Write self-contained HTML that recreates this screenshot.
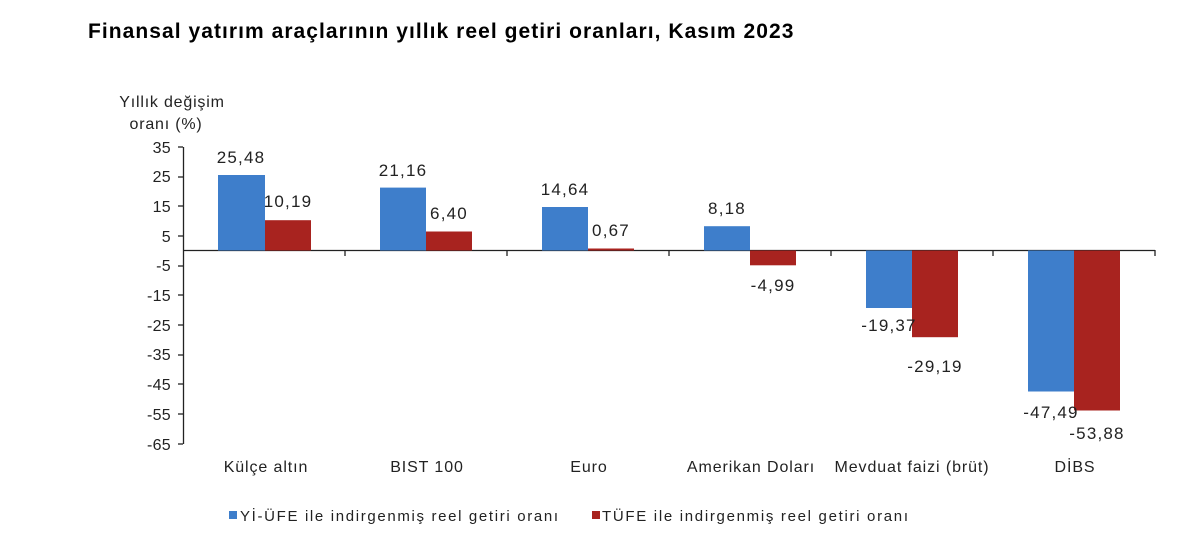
<!DOCTYPE html>
<html><head><meta charset="utf-8"><style>
html,body{margin:0;padding:0;background:#fff;width:1200px;height:557px;overflow:hidden}
svg{display:block;font-family:"Liberation Sans",Arial,sans-serif}
</style></head><body>
<svg width="1200" height="557" viewBox="0 0 1200 557">
<text x="88" y="38" font-size="21" font-weight="bold" letter-spacing="0.6" fill="#000" textLength="706" lengthAdjust="spacing">Finansal yatırım araçlarının yıllık reel getiri oranları, Kasım 2023</text>
<text x="172" y="107" font-size="16" letter-spacing="0.8" fill="#222" text-anchor="middle">Yıllık değişim</text>
<text x="166" y="129" font-size="16" letter-spacing="0.8" fill="#222" text-anchor="middle">oranı (%)</text>
<g font-size="16" letter-spacing="0.3" fill="#222" text-anchor="end">
<text x="171" y="153">35</text><text x="171" y="182">25</text><text x="171" y="212">15</text><text x="171" y="242">5</text>
<text x="171" y="271">-5</text><text x="171" y="301">-15</text><text x="171" y="331">-25</text><text x="171" y="360">-35</text>
<text x="171" y="390">-45</text><text x="171" y="420">-55</text><text x="171" y="450">-65</text>
</g>
<g stroke="#222" stroke-width="1.3">
<line x1="183.5" y1="147" x2="183.5" y2="444"/>
<line x1="178" y1="147" x2="183" y2="147"/><line x1="178" y1="177" x2="183" y2="177"/><line x1="178" y1="206" x2="183" y2="206"/><line x1="178" y1="236" x2="183" y2="236"/><line x1="178" y1="266" x2="183" y2="266"/><line x1="178" y1="295" x2="183" y2="295"/><line x1="178" y1="325" x2="183" y2="325"/><line x1="178" y1="355" x2="183" y2="355"/><line x1="178" y1="384" x2="183" y2="384"/><line x1="178" y1="414" x2="183" y2="414"/><line x1="178" y1="444" x2="183" y2="444"/>
<line x1="183" y1="250.5" x2="1155" y2="250.5"/>
<line x1="345" y1="250" x2="345" y2="256"/><line x1="507" y1="250" x2="507" y2="256"/><line x1="669" y1="250" x2="669" y2="256"/><line x1="831" y1="250" x2="831" y2="256"/><line x1="993" y1="250" x2="993" y2="256"/><line x1="1155" y1="250" x2="1155" y2="256"/>
</g>
<g fill="#3e7ecb">
<rect x="218" y="175" width="47" height="75.5"/>
<rect x="380" y="187.6" width="46" height="62.9"/>
<rect x="542" y="207" width="46" height="43.5"/>
<rect x="704" y="226.2" width="46" height="24.3"/>
<rect x="866" y="250.5" width="46" height="57.5"/>
<rect x="1028" y="250.5" width="46" height="141"/>
</g>
<g fill="#a8231f">
<rect x="265" y="220.2" width="46" height="30.3"/>
<rect x="426" y="231.5" width="46" height="19"/>
<rect x="588" y="248.5" width="46" height="2"/>
<rect x="750" y="250.5" width="46" height="14.8"/>
<rect x="912" y="250.5" width="46" height="86.7"/>
<rect x="1074" y="250.5" width="46" height="160"/>
</g>
<g font-size="17" letter-spacing="1.2" fill="#222" text-anchor="middle">
<text x="241" y="163">25,48</text><text x="288" y="207">10,19</text>
<text x="403" y="176">21,16</text><text x="449" y="219">6,40</text>
<text x="565" y="195">14,64</text><text x="611" y="236">0,67</text>
<text x="727" y="214">8,18</text><text x="773" y="291">-4,99</text>
<text x="889" y="331">-19,37</text><text x="935" y="372">-29,19</text>
<text x="1051" y="418">-47,49</text><text x="1097" y="439">-53,88</text>
</g>
<g font-size="16" letter-spacing="0.9" fill="#222" text-anchor="middle">
<text x="266" y="472">Külçe altın</text><text x="427" y="472">BIST 100</text><text x="589" y="472">Euro</text>
<text x="751" y="472">Amerikan Doları</text><text x="912" y="472">Mevduat faizi (brüt)</text><text x="1075" y="472">DİBS</text>
</g>
<rect x="229" y="511" width="8" height="8" fill="#3e7ecb"/>
<text x="240" y="521" font-size="15" fill="#222" textLength="318" lengthAdjust="spacing">Yİ-ÜFE ile indirgenmiş reel getiri oranı</text>
<rect x="592" y="511" width="8" height="8" fill="#a8231f"/>
<text x="602" y="521" font-size="15" fill="#222" textLength="306" lengthAdjust="spacing">TÜFE ile indirgenmiş reel getiri oranı</text>
</svg>
</body></html>
